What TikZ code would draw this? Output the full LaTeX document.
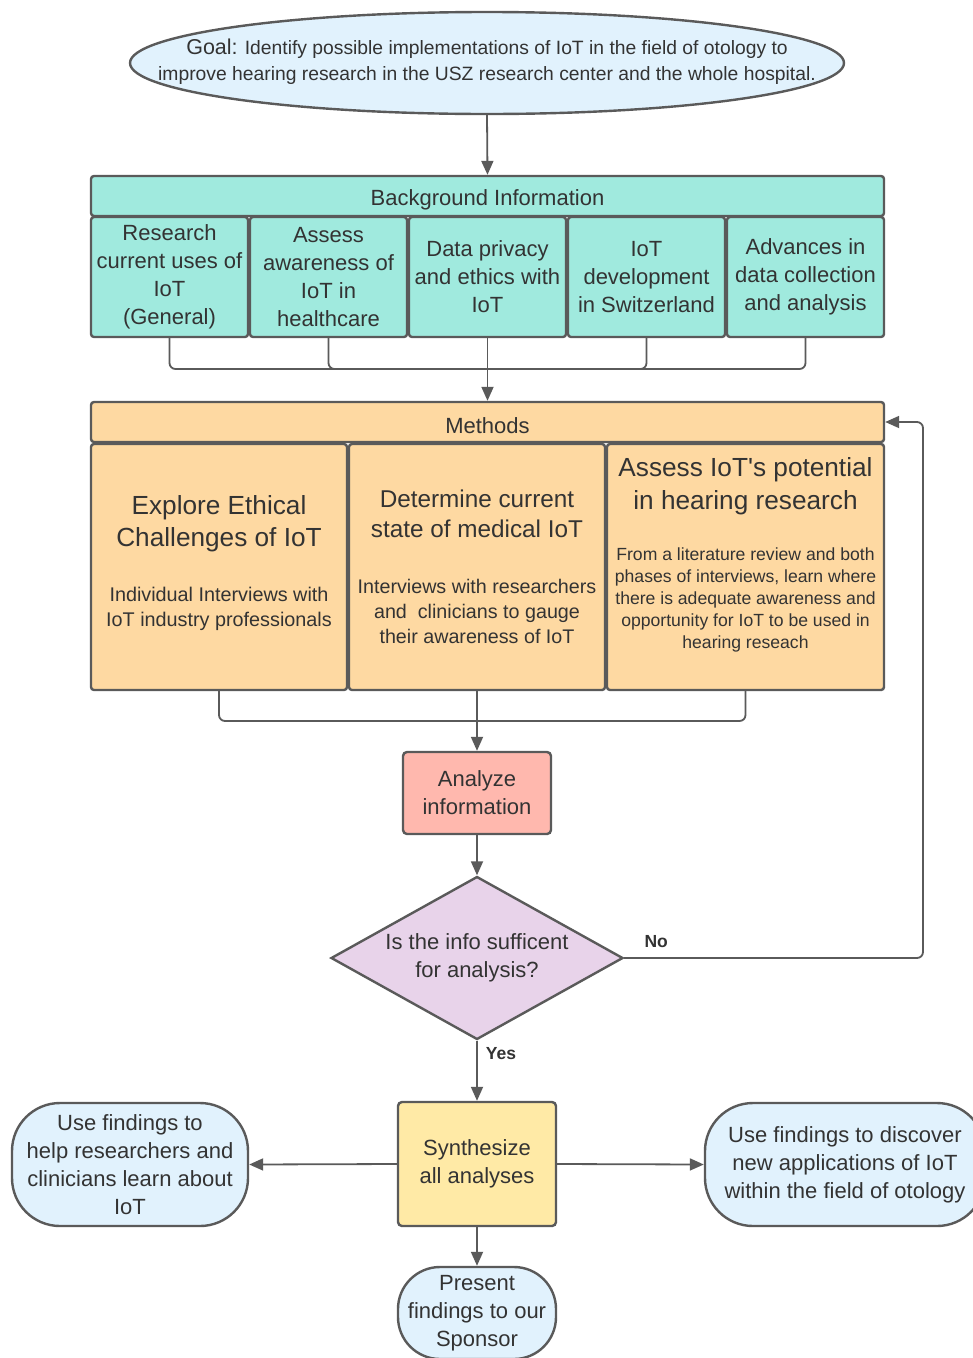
\documentclass[tikz,border=0pt]{standalone}
\usepackage{fontspec}
\setmainfont{Liberation Sans}[Ligatures=TeXOff]
\usetikzlibrary{shapes.geometric,arrows.meta}
\definecolor{lineg}{HTML}{5A5A5A}
\definecolor{txt}{HTML}{333333}
\definecolor{blue1}{HTML}{E1F2FD}
\definecolor{teal1}{HTML}{A0EADE}
\definecolor{orange1}{HTML}{FED9A2}
\definecolor{salmon1}{HTML}{FFB8AE}
\definecolor{purple1}{HTML}{E8D3EA}
\definecolor{yellow1}{HTML}{FFEAA6}
\tikzset{
  shp/.style={draw=lineg, line width=2.4pt, inner sep=0pt, align=center, text=txt},
  tealbox/.style={shp, fill=teal1, rounded corners=3pt},
  orbox/.style={shp, fill=orange1, rounded corners=3pt},
  f22/.style={font={\fontsize{22}{28}\selectfont}},
  txtnode/.style={inner sep=0pt, align=center, text=txt},
  conn/.style={draw=lineg, line width=1.8pt, rounded corners=6pt},
  arr/.style={conn, -{Triangle[length=14pt,width=12pt]}},
  lbl/.style={inner sep=0pt, text=txt, font={\fontsize{17.5}{20}\selectfont\bfseries}},
  pill/.style={shp, fill=blue1, rounded corners=48pt, f22}
}
\begin{document}
\begin{tikzpicture}[x=1pt,y=-1pt]
\useasboundingbox[fill=white] (0,0) rectangle (973,1358);

% Goal
\node[shp, ellipse, fill=blue1, minimum width=714pt, minimum height=102pt] (goal) at (487,63) {};
\node[txtnode, font={\fontsize{19.3}{26}\selectfont}] (goaltext) at (487,62)
  {{\fontsize{21.5}{26}\selectfont Goal:} Identify possible implementations of IoT in the field of otology to\\improve hearing research in the USZ research center and the whole hospital.};

% Background information
\node[tealbox, f22, minimum width=793pt, minimum height=40pt, text height=19.3pt, text depth=0pt] (bg) at (487.5,196) {Background Information};
\node[tealbox, f22, minimum width=157pt, minimum height=120pt] (b1) at (169.5,277) {Research\\current uses of\\IoT\\(General)};
\node[tealbox, f22, minimum width=157pt, minimum height=120pt] (b2) at (328.5,277) {Assess\\awareness of\\IoT in\\healthcare};
\node[tealbox, f22, minimum width=157pt, minimum height=120pt] (b3) at (487.5,277) {Data privacy\\and ethics with\\IoT};
\node[tealbox, f22, minimum width=157pt, minimum height=120pt] (b4) at (646.5,277) {IoT\\development\\in Switzerland};
\node[tealbox, f22, minimum width=157pt, minimum height=120pt] (b5) at (805.5,277) {Advances in\\data collection\\and analysis};

% Methods
\node[orbox, f22, minimum width=793pt, minimum height=40pt, text height=22pt, text depth=0pt] (mh) at (487.5,422) {Methods};
\node[orbox, minimum width=256pt, minimum height=246pt] (m1) at (219,567) {};
\node[orbox, minimum width=256pt, minimum height=246pt] (m2) at (477,567) {};
\node[orbox, minimum width=277pt, minimum height=246pt] (m3) at (745.5,567) {};
\node[txtnode, font={\fontsize{26.2}{32}\selectfont}] (m1t) at (219,524) {Explore Ethical\\Challenges of IoT};
\node[txtnode, font={\fontsize{19.8}{25}\selectfont}] (m1s) at (219,609) {Individual Interviews with\\IoT industry professionals};
\node[txtnode, font={\fontsize{24.3}{30}\selectfont}] (m2t) at (477,514) {Determine current\\state of medical IoT};
\node[txtnode, font={\fontsize{19.7}{25}\selectfont}] (m2s) at (477,611) {Interviews with researchers\\and\ \ clinicians to gauge\\their awareness of IoT};
\node[txtnode, font={\fontsize{26.2}{33}\selectfont}] (m3t) at (745.5,486.5) {Assess IoT's potential\\in hearing research};
\node[txtnode, font={\fontsize{17.6}{22}\selectfont}] (m3s) at (745.5,600) {From a literature review and both\\phases of interviews, learn where\\there is adequate awareness and\\opportunity for IoT to be used in\\hearing reseach};

% Analyze
\node[shp, fill=salmon1, rounded corners=4pt, f22, minimum width=148pt, minimum height=82pt] (an) at (477,793) {Analyze\\information};

% Decision
\node[shp, diamond, aspect=1.79, fill=purple1, minimum width=292pt, minimum height=163pt,
      font={\fontsize{22}{28}\selectfont}] (dec) at (477,958) {Is the info sufficent\\for analysis?};

% Synthesize
\node[shp, fill=yellow1, rounded corners=4pt, f22, minimum width=158pt, minimum height=124pt] (syn) at (477,1164) {Synthesize\\all analyses};

% Outcomes
\node[pill, minimum width=236pt, minimum height=123pt] (left) at (130,1164.5) {Use findings to\\help researchers and\\clinicians learn about\\IoT};
\node[pill, minimum width=280pt, minimum height=123pt] (right) at (845,1164.5) {Use findings to discover\\new applications of IoT\\within the field of otology};
\node[pill, rounded corners=42pt, minimum width=158pt, minimum height=92pt] (pres) at (477,1313) {Present\\findings to our\\Sponsor};

% Coordinates
\coordinate (j1) at (487.5,369);
\coordinate (j2) at (477,721);
\coordinate (noc) at (923,958);

% Connectors
\draw[arr] (goal.south) -- (bg.north);
\foreach \b in {b1,b2,b3,b4,b5} \draw[conn] (\b.south) |- (j1);
\draw[arr] (j1) -- (mh.north);
\foreach \m in {m1,m2,m3} \draw[conn] (\m.south) |- (j2);
\draw[arr] (j2) -- (an.north);
\draw[arr] (an.south) -- (dec.north);
\draw[arr] (dec.east) -- node[lbl, pos=0.107, anchor=south, yshift=9pt] (nolbl) {No} (noc) |- (mh.east);
\draw[arr] (dec.south) -- node[lbl, pos=0.21, anchor=west, xshift=8pt] (yeslbl) {Yes} (syn.north);
\draw[arr] (syn.west) -- (left.east);
\draw[arr] (syn.east) -- (right.west);
\draw[arr] (syn.south) -- (pres.north);
\end{tikzpicture}
\end{document}
